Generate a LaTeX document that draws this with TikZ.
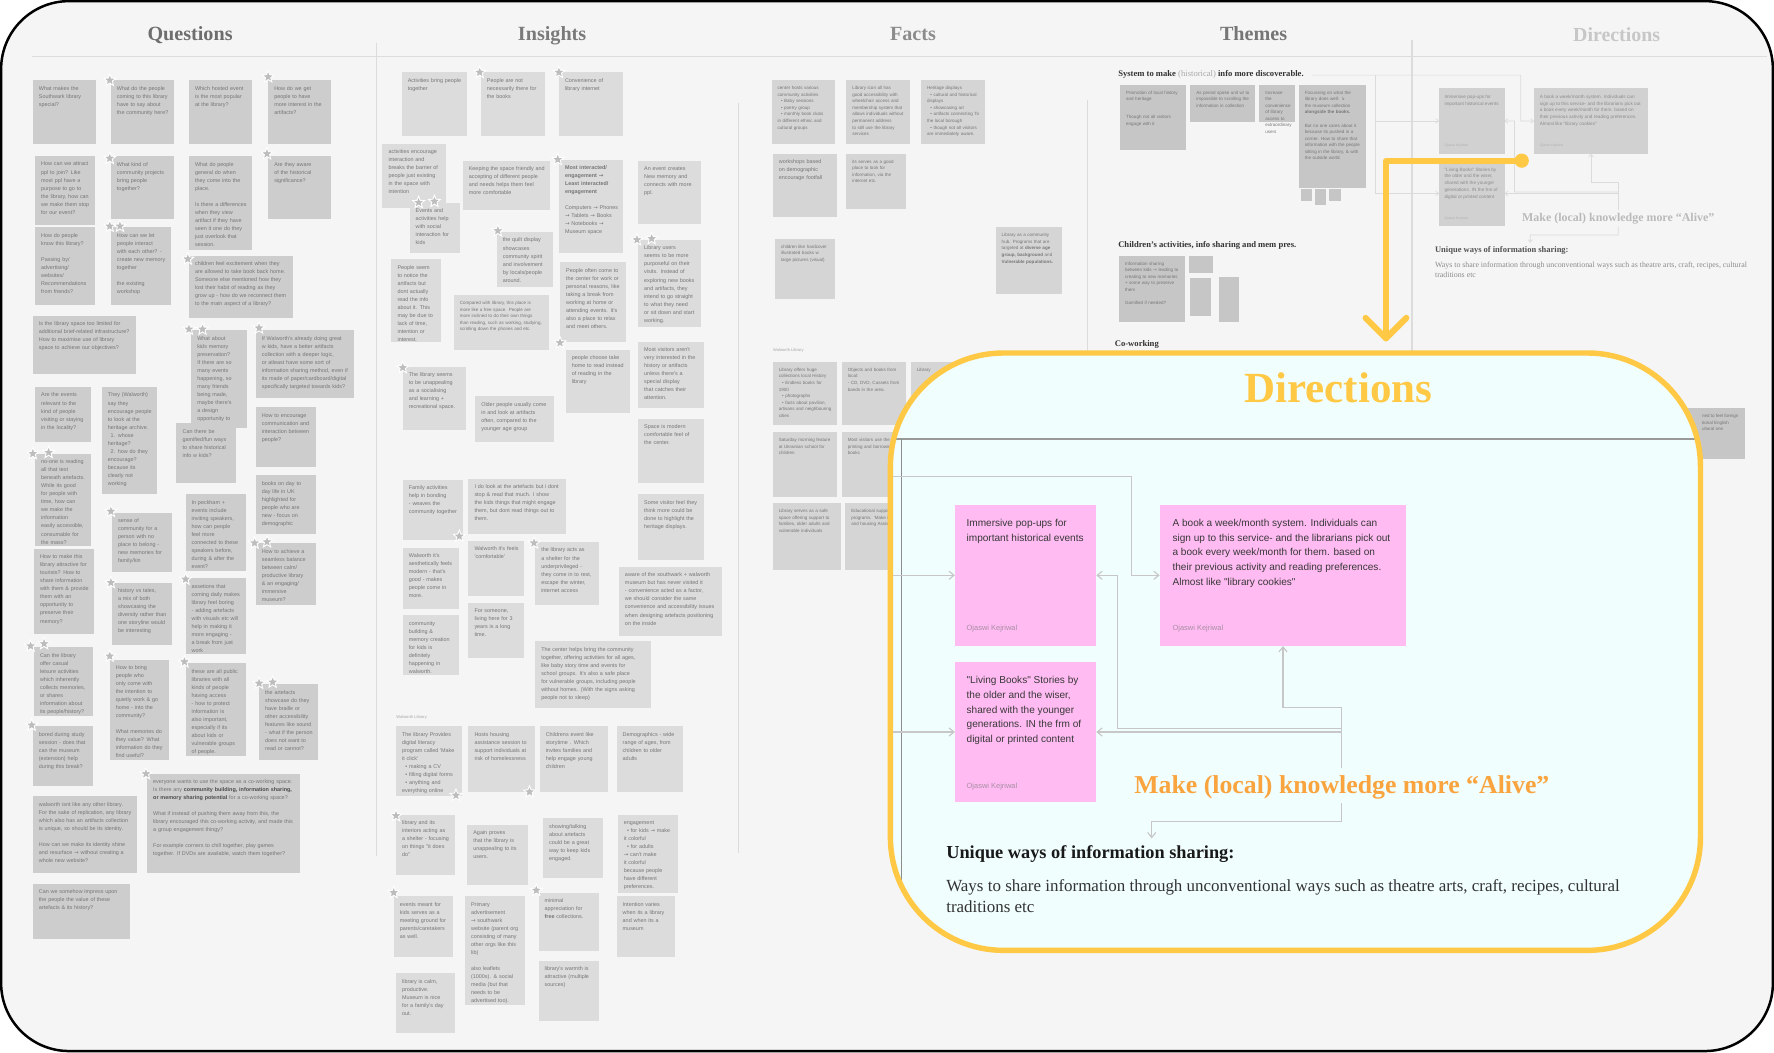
\documentclass[tikz,border=0pt]{standalone}
\usepackage{fontspec}
\setmainfont{Liberation Serif}
\newfontfamily\sansf{Liberation Sans}
\newfontfamily\djv{DejaVu Sans}
\usetikzlibrary{shapes.geometric,arrows.meta}
\hyphenpenalty=10000
\exhyphenpenalty=10000
\newcommand\rarr{{\djv →}}
\definecolor{board}{HTML}{F5F5F5}
\definecolor{divl}{HTML}{DCDCDC}
\definecolor{qfill}{HTML}{CDCDCD}
\definecolor{ifill}{HTML}{DCDCDC}
\definecolor{ffill}{HTML}{D5D5D5}
\definecolor{tfill}{HTML}{C6C6C6}
\definecolor{ntext}{HTML}{767676}
\definecolor{starg}{HTML}{BDBDBD}
\definecolor{ylw}{HTML}{FFC845}
\definecolor{orng}{HTML}{F9A43E}
\definecolor{pinkn}{HTML}{FFBBF2}
\definecolor{callbg}{HTML}{F0FEFD}
\definecolor{hq}{HTML}{6E6E6E}
\definecolor{hi}{HTML}{7A7A7A}
\definecolor{hf}{HTML}{8C8C8C}
\definecolor{ht}{HTML}{767676}
\definecolor{hist}{HTML}{A8A8A8}
\definecolor{authg}{HTML}{A88FA3}

\newcommand\stnote[8]{%
  \pgfmathsetlengthmacro\stnW{(#6-#4)*0.5pt}%
  \pgfmathsetlengthmacro\stnH{(#7-#5)*0.5pt}%
  \pgfmathsetlengthmacro\stnT{(#6-#4-10)*0.5pt}%
  \node[#1, minimum width=\stnW, minimum height=\stnH] (#3) at (#4,#5) {};%
  \node[#2, text width=\stnT] (#3t) at ([xshift=2.5pt,yshift=-2.5pt]#3.north west) {#8};%
}

\newcommand\dirbody[1]{%
  \node[dnote, minimum width=62.5pt, minimum height=62.5pt] (#1n1) at (844,446) {};
  \node[dnote, minimum width=109pt, minimum height=62.5pt] (#1n2) at (1025,446) {};
  \node[dnote, minimum width=62.5pt, minimum height=62pt] (#1n3) at (844,585) {};
  \node[dtext] (#1t1) at (854,458.5) {Immersive pop-ups for\\important historical events};
  \node[dtext] (#1t2) at (1036,458.5) {A book a week/month system. Individuals can\\sign up to this service- and the librarians pick out\\a book every week/month for them. based on\\their previous activity and reading preferences.\\Almost like "library cookies"};
  \node[dtext] (#1t3) at (854,597.5) {"Living Books" Stories by\\the older and the wiser,\\shared with the younger\\generations. IN the frm of\\digital or printed content};
  \node[dauth] (#1a1) at (854,556) {Ojaswi Kejriwal};
  \node[dauth] (#1a2) at (1036,556) {Ojaswi Kejriwal};
  \node[dauth] (#1a3) at (854,695) {Ojaswi Kejriwal};
  \coordinate (#1c0) at (602,421);
  \coordinate (#1c1) at (723,421);
  \coordinate (#1c2) at (723,508.5);
  \coordinate (#1c3) at (1186,625);
  \coordinate (#1c4) at (1186,679);
  \coordinate (#1c5) at (1186,644);
  \coordinate (#1c6) at (1186,647);
  \coordinate (#1c7) at (1186,710);
  \coordinate (#1c8) at (1018,741);
  \draw[dline] (#1c0) -- (1000,421) |- (#1n2.west);
  \draw[dline] (#1c1) |- (#1n1.west);
  \draw[dline] (#1c2) |- (#1n3.west);
  \draw[dline] (#1c4) -- (#1c3) -| (#1n2.south);
  \draw[dline] (#1c5) -- (988,644) |- (#1n1.east);
  \draw[dline] (#1c6) -- (#1n3.east);
  \draw[dline] (#1c7) -- (1186,726) -| (#1c8);
  \node[dtitle] (#1ti) at (1183,356) {Directions};
  \node[dmake] (#1mk) at (1186,701) {Make (local) knowledge more “Alive”};
  \node[dhead] (#1uh) at (836,759) {Unique ways of information sharing:};
  \node[dbody] (#1ub) at (836,777) {Ways to share information through unconventional ways such as theatre arts, craft, recipes, cultural\\traditions etc};
}

\begin{document}
\begin{tikzpicture}[x=0.5pt,y=-0.5pt,
  qnote/.style={anchor=north west, fill=qfill, inner sep=0, outer sep=0},
  inote/.style={qnote, fill=ifill},
  fnote/.style={qnote, fill=ffill},
  tnote/.style={qnote, fill=tfill},
  qtx/.style={anchor=north west, inner sep=0, align=left, text=ntext, font=\sansf\fontsize{2.4}{3.55}\selectfont},
  ftx/.style={qtx, font=\sansf\fontsize{2.0}{2.9}\selectfont},
  stmark/.style={star, star points=5, star point ratio=2.3, fill=starg, draw=white, line width=0.4pt, minimum size=5.5pt, inner sep=0},
  colhead/.style={anchor=base, font=\bfseries\fontsize{8.9}{10}\selectfont},
  divline/.style={draw=divl, line width=0.5pt},
  thead/.style={anchor=base west, inner sep=0, text=black!80, font=\bfseries\fontsize{3.8}{4.5}\selectfont},
  tinylab/.style={anchor=base west, inner sep=0, text=gray!70, font=\sansf\fontsize{1.8}{2}\selectfont},
  dnote/.style={anchor=north west, fill=dnf, inner sep=0, outer sep=0},
  dtext/.style={anchor=north west, inner sep=0, align=left, text=dnt, font=\sansf\fontsize{4.45}{6.5}\selectfont},
  dauth/.style={anchor=west, inner sep=0, text=dna, font=\sansf\fontsize{3.3}{4}\selectfont},
  dline/.style={draw=dln, line width=0.5pt, -{Straight Barb[length=2.2pt,width=3.6pt]}},
  dtitle/.style={anchor=base, text=dti, font=\bfseries\fontsize{19}{22}\selectfont},
  dmake/.style={anchor=base, text=dmk, font=\bfseries\fontsize{11.4}{13}\selectfont},
  dhead/.style={anchor=base west, inner sep=0, text=dhd, font=\bfseries\fontsize{8.1}{10}\selectfont},
  dbody/.style={anchor=north west, inner sep=0, align=left, text=dbd, font=\fontsize{7.5}{9.3}\selectfont}
]
\useasboundingbox (0,0) rectangle (1568,930);
\fill[white] (0,0) rectangle (1568,930);
\fill[board, rounded corners=30pt] (1,1) rectangle (1567,929);

% dividers
\draw[divline] (28,50) -- (1562,50);
\draw[divline] (333,38) -- (333,757);
\draw[divline] (653,91) -- (653,754);
\draw[divline] (961,88) -- (961,400);
\draw[divline] (1248,35) -- (1248,400);

% column headers
\node[colhead, text=hq] (hQ) at (168,36) {Questions};
\node[colhead, text=hi] (hI) at (488,36) {Insights};
\node[colhead, text=hf] (hF) at (807,36) {Facts};
\node[colhead, text=ht] (hT) at (1108,36) {Themes};

% ---------------- Questions ----------------
\stnote{qnote}{qtx}{q1}{29}{71}{85}{127}{What makes the Southwark library special?}
\stnote{qnote}{qtx}{q2}{98}{71}{154}{127}{What do the people coming to this library have to say about the community here?}
\stnote{qnote}{qtx}{q3}{167}{71}{223}{127}{Which hosted event is the most popular at the library?}
\stnote{qnote}{qtx}{q4}{237}{71}{293}{127}{How do we get people to have more interest in the artifacts?}
\stnote{qnote}{qtx}{q5}{31}{138}{84}{199}{How can we attract ppl to join? Like most ppl have a purpose to go to the library, how can we make them stop for our event?}
\stnote{qnote}{qtx}{q6}{98}{138}{154}{194}{What kind of community projects bring people together?}
\stnote{qnote}{qtx}{q7}{167}{138}{223}{221}{What do people general do when they come into the place.\\[3.5pt]Is there a differences when they view artifact if they have seen it one do they just overlook that session.}
\stnote{qnote}{qtx}{q8}{237}{138}{293}{194}{Are they aware of the historical significance?}
\stnote{qnote}{qtx}{q9}{31}{201}{84}{270}{How do people know this library?\\[3.5pt]Passing by/ advertising/ websites/ Recommendations from friends?}
\stnote{qnote}{qtx}{q10}{98}{201}{151}{270}{How can we let people interact with each other? - create new memory together\\[3.5pt]the existing workshop}
\stnote{qnote}{qtx}{q11}{167}{226}{259}{281}{children feel excitement when they are allowed to take book back home. Someone else mentioned how they lost their habit of reading as they grow up - how do we reconnect them to the main aspect of a library?}
\stnote{qnote}{qtx}{q12}{29}{279}{120}{331}{Is the library space too limited for additional brief-related infrastructure? How to maximise use of library space to achieve our objectives?}
\stnote{qnote}{qtx}{q13}{169}{292}{218}{378}{What about kids memory preservation? If there are so many events happening, so many friends being made, maybe there's a design opportunity to preserve those memories?}
\stnote{qnote}{qtx}{q14}{226}{292}{313}{352}{If Walworth's already doing great w kids, have a better artifacts collection with a deeper logic, or atleast have some sort of information sharing method, even if its made of paper/cardboard/digital specifically targeted towards kids?}
\stnote{qnote}{qtx}{q15}{31}{342}{80}{391}{Are the events relevant to the kind of people visiting or staying in the locality?}
\stnote{qnote}{qtx}{q16}{90}{342}{139}{437}{They (Walworth) say they encourage people to look at the heritage archive.\\\hspace*{1.2pt}1. whose heritage?\\\hspace*{1.2pt}2. how do they encourage? because its clearly not working}
\stnote{qnote}{qtx}{q17}{156}{374}{209}{427}{Can there be gamified/fun ways to share historical info w kids?}
\stnote{qnote}{qtx}{q18}{226}{360}{279}{413}{How to encourage communication and interaction between people?}
\stnote{qnote}{qtx}{q19}{31}{401}{80}{483}{no-one is reading all that text beneath artefacts. While its good for people with time, how can we make the information easily accessible, consumable for the mass?}
\stnote{qnote}{qtx}{q20}{99}{453}{152}{506}{sense of community for a person with no place to belong - new memories for family/kin}
\stnote{qnote}{qtx}{q21}{164}{437}{217}{505}{In peckham + events include inviting speakers, how can people feel more connected to these speakers before, during \& after the event?}
\stnote{qnote}{qtx}{q22}{226}{420}{279}{472}{books on day to day life in UK highlighted for people who are new - focus on demographic}
\stnote{qnote}{qtx}{q23}{30}{485}{83}{560}{How to make this library attractive for tourists? How to share information with them \& provide them with an opportunity to preserve their memory?}
\stnote{qnote}{qtx}{q24}{99}{515}{152}{570}{history vs tales, a mix of both showcasing the diversity rather than one storyline would be interesting}
\stnote{qnote}{qtx}{q25}{164}{511}{217}{578}{assetions that coming daily makes library feel boring - adding artefacts with visuals etc will help in making it more engaging - a break from just work}
\stnote{qnote}{qtx}{q26}{226}{480}{279}{535}{How to achieve a seamless balance between calm/ productive library \& an engaging/ immersive museum?}
\stnote{qnote}{qtx}{q27}{30}{572}{82}{633}{Can the library offer casual leisure activities which inherently collects memories, or shares information about its people/history?}
\stnote{qnote}{qtx}{q28}{97}{583}{149}{672}{How to bring people who only come with the intention to quietly work \& go home - into the community?\\[3.5pt]What memories do they value? What information do they find useful?}
\stnote{qnote}{qtx}{q29}{164}{586}{217}{668}{these are all public libraries with all kinds of people having access - how to protect information is also important, especially if its about kids or vulnerable groups of people.}
\stnote{qnote}{qtx}{q30}{229}{605}{281}{672}{the artefacts showcase do they have braille or other accessibility features like sound - what if the person does not want to read or cannot?}
\stnote{qnote}{qtx}{q31}{29}{642}{82}{695}{bored during study session - does that can the museum (extension) help during this break?}
\stnote{qnote}{qtx}{q32}{130}{684}{265}{772}{everyone wants to use the space as a co-working space. Is there any {\color{black!70}\bfseries community building, information sharing, or memory sharing potential} for a co-working space?\\[3.5pt]What if instead of pushing them away from this, the library encouraged this co-working activity, and made this a group engagement thingy?\\[3.5pt]For example corners to chill together, play games together. If DVDs are available, watch them together?}
\stnote{qnote}{qtx}{q33}{29}{704}{121}{772}{walworth isnt like any other library. For the sake of replication, any library which also has an artifacts collection is unique, so should be its identity.\\[3.5pt]How can we make its identity shine and resurface \rarr{} without creating a whole new website?}
\stnote{qnote}{qtx}{q34}{29}{781}{115}{830}{Can we somehow impress upon the people the value of these artefacts \& its history?}

% ---------------- Insights ----------------
\stnote{inote}{qtx}{i1}{355}{64}{413}{120}{Activities bring people together}
\stnote{inote}{qtx}{i2}{425}{64}{482}{120}{People are not necessarily there for the books}
\stnote{inote}{qtx}{i3}{494}{64}{551}{120}{Convenience of library internet}
\stnote{inote}{qtx}{i4}{338}{127}{394}{184}{activities encourage interaction and breaks the barrier of people just existing in the space with intention}
\stnote{inote}{qtx}{i5}{362}{179}{407}{224}{Events and activities help with social interaction for kids}
\stnote{inote}{qtx}{i6}{409}{142}{486}{186}{Keeping the space friendly and accepting of different people and needs helps them feel more comfortable}
\stnote{inote}{qtx}{i7}{494}{141}{551}{224}{{\bfseries Most interacted/ engagement \rarr{} Least interacted/ engagement}\\[3.5pt]Computers \rarr{} Phones \rarr{} Tablets \rarr{} Books \rarr{} Notebooks \rarr{} Museum space}
\stnote{inote}{qtx}{i8}{564}{142}{620}{198}{An event creates New memory and connects with more ppl.}
\stnote{inote}{qtx}{i9}{439}{205}{489}{254}{the quilt display showcases community spirit and involvement by locals/people around.}
\stnote{inote}{qtx}{i10}{346}{229}{390}{302}{People seem to notice the artifacts but dont actually read the info about it. This may be due to lack of time, intention or interest.}
\stnote{inote}{ftx}{i11}{401}{261}{485}{309}{Compared with library, this place is more like a free space. People are more inclined to do their own things than reading, such as working, studying, scrolling down the phones and etc.}
\stnote{inote}{qtx}{i12}{495}{232}{553}{302}{People often come to the center for work or personal reasons, like taking a break from working at home or attending events. It's also a place to relax and meet others.}
\stnote{inote}{qtx}{i13}{564}{212}{620}{289}{Library users seems to be more purposeful on their visits. Instead of exploring new books and artifacts, they intend to go straight to what they need or sit down and start working.}
\stnote{inote}{qtx}{i14}{356}{324}{412}{380}{The library seems to be unappealing as a socialising and learning + recreational space.}
\stnote{inote}{qtx}{i15}{420}{350}{490}{391}{Older people usually come in and look at artifacts often, compared to the younger age group}
\stnote{inote}{qtx}{i16}{500}{309}{557}{365}{people choose take home to read instead of reading in the library}
\stnote{inote}{qtx}{i17}{564}{302}{622}{361}{Most visitors aren't very interested in the history or artifacts unless there's a special display that catches their attention.}
\stnote{inote}{qtx}{i18}{564}{370}{622}{427}{Space is modern comfortable feel of the center.}
\stnote{inote}{qtx}{i19}{356}{424}{409}{477}{Family activities help in bonding - weaves the community together}
\stnote{inote}{qtx}{i20}{414}{423}{500}{472}{I do look at the artefacts but i dont stop \& read that much. I show the kids things that might engage them, but dont read things out to them.}
\stnote{inote}{qtx}{i21}{564}{437}{622}{495}{Some visitor feel they think more could be done to highlight the heritage displays.}
\stnote{inote}{qtx}{i22}{356}{484}{406}{538}{Walworth it's aesthetically feels modern - that's good - makes people come in more.}
\stnote{inote}{qtx}{i23}{414}{478}{463}{527}{Walworth it's feels 'comfortable'}
\stnote{inote}{qtx}{i24}{473}{479}{529}{535}{the library acts as a shelter for the underprivileged - they come in to rest, escape the winter, internet access}
\stnote{inote}{qtx}{i25}{547}{501}{638}{562}{aware of the southwark + walworth museum but has never visited it - convenience acted as a factor, we should consider the same convenience and accessibility issues when designing artefacts positioning on the inside}
\stnote{inote}{qtx}{i26}{356}{544}{406}{597}{community building \& memory creation for kids is definitely happening in walworth.}
\stnote{inote}{qtx}{i27}{414}{533}{463}{582}{For someone, living here for 3 years is a long time.}
\stnote{inote}{qtx}{i28}{473}{567}{575}{626}{The center helps bring the community together, offering activities for all ages, like baby story time and events for school groups. It's also a safe place for vulnerable groups, including people without homes. (With the signs asking people not to sleep)}
\node[tinylab] (lab1) at (350,635) {Walworth Library};
\stnote{inote}{qtx}{i29}{350}{642}{408}{704}{The library Provides digital literacy program called 'Make it click'\\\hspace*{1.5pt}• making a CV\\\hspace*{1.5pt}• filling digital forms\\\hspace*{1.5pt}• anything and everything online}
\stnote{inote}{qtx}{i30}{414}{642}{473}{700}{Hosts housing assistance session to support individuals at risk of homelessness}
\stnote{inote}{qtx}{i31}{477}{642}{537}{700}{Childrens event like storytime . Which invites families and help engage young children}
\stnote{inote}{qtx}{i32}{545}{642}{604}{700}{Demographics - wide range of ages, from children to older adults}
\stnote{inote}{qtx}{i33}{350}{720}{402}{773}{library and its interiors acting as a shelter - focusing on things "it does do"}
\stnote{inote}{qtx}{i34}{413}{729}{467}{782}{Again proves that the library is unappealing to its users.}
\stnote{inote}{qtx}{i35}{480}{723}{533}{776}{showing/talking about artefacts could be a great way to keep kids engaged.}
\stnote{inote}{qtx}{i36}{546}{720}{599}{789}{engagement\\\hspace*{1.5pt}• for kids \rarr{} make it colorful\\\hspace*{1.5pt}• for adults \rarr{} can't make it colorful because people have different preferences.}
\stnote{inote}{qtx}{i37}{348}{792}{400}{846}{events meant for kids serves as a meeting ground for parents/caretakers as well.}
\stnote{inote}{qtx}{i38}{411}{792}{464}{888}{Primary advertisement \rarr{} southwark website (parent org consisting of many other orgs like this lib)\\[3.5pt]also leaflets (1000s). \& social media (but that needs to be advertised too).}
\stnote{inote}{qtx}{i39}{476}{789}{529}{841}{minimal appreciation for {\bfseries free} collections.}
\stnote{inote}{qtx}{i40}{545}{792}{597}{846}{Intention varies when its a library and when its a museum}
\stnote{inote}{qtx}{i41}{350}{860}{402}{913}{library is calm, productive. Museum is nice for a family's day out.}
\stnote{inote}{qtx}{i42}{476}{849}{529}{902}{library's warmth is attractive (multiple sources)}

% ---------------- Facts ----------------
\stnote{fnote}{ftx}{f1}{682}{71}{738}{127}{center hosts various community activities\\\hspace*{1.5pt}• Baby sessions\\\hspace*{1.5pt}• poetry group\\\hspace*{1.5pt}• monthly book clubs in different ethnic and cultural groups}
\stnote{fnote}{ftx}{f2}{748}{71}{804}{127}{Library icon all has good accessibility with wheelchair access and membership system that allows individuals without permanent address to still use the library services}
\stnote{fnote}{ftx}{f3}{814}{71}{871}{127}{Heritage displays\\\hspace*{1.5pt}• cultural and historical displays\\\hspace*{1.5pt}• showcasing art\\\hspace*{1.5pt}• artifacts connecting To the local borough\\\hspace*{1.5pt}• though not all visitors are immediately aware.}
\stnote{fnote}{qtx}{f4}{683}{136}{740}{192}{workshops based on demographic encourage footfall}
\stnote{fnote}{ftx}{f5}{748}{136}{801}{185}{its serves as a good place to look for information, via the internet etc.}
\stnote{fnote}{ftx}{f6}{685}{211}{738}{264}{children like hardcover illustrated books w large pictures (visual)}
\stnote{fnote}{ftx}{f7}{880}{201}{939}{260}{Library as a community hub. Programs that are targeted at {\bfseries diverse age group, background} and {\bfseries Vulnerable populations.}}
\node[tinylab] (lab2) at (683,311) {Walworth Library};
\stnote{fnote}{ftx}{f8}{683}{320}{740}{376}{Library offers huge collections local History\\\hspace*{1.5pt}• Endless books for 1900\\\hspace*{1.5pt}• photographs\\\hspace*{1.5pt}• facts about pavilion, artisans and neighbouring cities}
\stnote{fnote}{ftx}{f9}{744}{320}{801}{376}{Objects and books from local:\\ - CD, DVD, Cassets from bands in the area.}
\stnote{fnote}{ftx}{f10}{805}{320}{862}{376}{Library}
\stnote{fnote}{ftx}{f11}{683}{382}{740}{439}{Saturday morning feature at Ukrainian school for children}
\stnote{fnote}{ftx}{f12}{744}{382}{801}{439}{Most visitors use the printing and borrowing books}
\stnote{fnote}{ftx}{f13}{683}{445}{743}{504}{Library serves as a safe space offering support to families, older adults and vulnerable individuals}
\stnote{fnote}{ftx}{f14}{747}{445}{804}{504}{Educational support programs. 'Make it click' and housing Assistance}

% ---------------- Themes ----------------
\node[thead] (th1) at (988,67.5) {System to make {\mdseries\color{hist}(historical)} info more discoverable.};
\stnote{tnote}{ftx}{t1}{990}{75}{1048}{133}{Promotion of local history and heritage\\[5pt]Though not all visitors engage with it}
\stnote{tnote}{ftx}{t2}{1052}{75}{1109}{108}{As period spoke unit w/ to impossible to scrolling the information in collection}
\stnote{tnote}{ftx}{t3}{1113}{75}{1145}{108}{Increase the convenience of library access to extraordinary users}
\stnote{tnote}{ftx}{t4}{1148}{75}{1207}{166}{Focussing on what the library does well: {\djv ↳} the museum collection {\bfseries alongside the books.}\\[2.9pt]But no one cares about it because its pushed in a corner. How to share that information with the people sitting in the library, \& with the outside world.}
\node[tnote, minimum width=5pt, minimum height=5.5pt] (ts1) at (1150,167) {};
\node[tnote, minimum width=5pt, minimum height=7pt] (ts2) at (1162,167) {};
\node[tnote, minimum width=5pt, minimum height=5.5pt] (ts3) at (1175,167) {};
\node[thead] (th2) at (988,219) {Children’s activities, info sharing and mem pres.};
\stnote{tnote}{ftx}{t5}{989}{226}{1047}{285}{Information sharing between kids \rarr{} leading to creating to new memories + some way to preserve them\\[2.9pt]Gamified if needed?}
\stnote{tnote}{ftx}{t6}{1051}{226}{1072}{241}{}
\stnote{tnote}{ftx}{t7}{1052}{246}{1070}{279}{}
\stnote{tnote}{ftx}{t8}{1077}{245}{1095}{285}{}
\node[thead] (th3) at (985,306) {Co-working};
\node[tnote, minimum width=51pt, minimum height=22.5pt] (t9) at (1440,361) {};
\node[ftx] (t9t) at (1504,366) {ned to feel foreign\\tional English\\ultural one};

% stars
\foreach \sx/\sy [count=\k] in {97/71,237/68,97/140,236/136,97/200,106/200,166/229,167/291,179/291,229/290,29/401,43/400,98/452,98/515,164/512,225/480,236/479,27/571,39/569,97/580,163/585,229/604,241/603,28/641,129/684,424/64,494/64,370/179,384/178,493/141,440/204,563/212,576/211,356/325,495/303,406/474,472/480,403/703,468/700,350/721,348/789,474/787}
  \node[stmark] (star\k) at (\sx,\sy) {};

% ---------------- Directions column (small) ----------------
\begin{scope}[shift={(881.2,-128.5)}, scale=0.463, transform shape,
  dline/.style={draw=dln, line width=0.3pt, -{Straight Barb[length=1.2pt,width=2pt]}}]
  \colorlet{dnf}{black!18}
  \colorlet{dnt}{black!45}
  \colorlet{dna}{black!30}
  \colorlet{dln}{black!14}
  \colorlet{dti}{black!22}
  \colorlet{dmk}{black!27}
  \colorlet{dhd}{black!68}
  \colorlet{dbd}{black!45}
  \dirbody{m}
\end{scope}

% yellow pointer
\node[circle, fill=ylw, inner sep=0, minimum size=6.3pt] (ydot) at (1345,142) {};
\coordinate (ytip) at (1225,299);
\coordinate (yl) at (1207,281);
\coordinate (yr) at (1243,281);
\draw[ylw, line width=2.7pt, line join=round, line cap=round] (ydot.center) -| (ytip);
\draw[ylw, line width=2.7pt, line join=round, line cap=round] (yl) -- (ytip) -- (yr);

% ---------------- Directions callout (large) ----------------
\begin{scope}
  \colorlet{dnf}{pinkn}
  \colorlet{dnt}{black!78}
  \colorlet{dna}{authg}
  \colorlet{dln}{black!22}
  \colorlet{dti}{ylw}
  \colorlet{dmk}{orng}
  \colorlet{dhd}{black!90}
  \colorlet{dbd}{black!80}
  \clip[rounded corners=50pt] (787,312) rectangle (1503,840);
  \fill[callbg] (787,312) rectangle (1503,840);
  \draw[draw=black!40, line width=0.8pt] (700,388) -- (1600,388);
  \draw[draw=black!45, line width=0.5pt] (797,388) -- (797,900);
  \dirbody{b}
\end{scope}
\draw[draw=ylw, line width=2.4pt, rounded corners=50pt] (787,312) rectangle (1503,840);

% frame
\draw[black, line width=1.1pt, rounded corners=30pt] (1,1) rectangle (1567,929);
\end{tikzpicture}
\end{document}
